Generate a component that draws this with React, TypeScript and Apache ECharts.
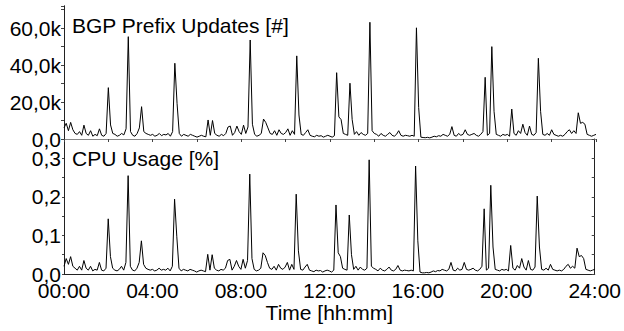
import React, { useEffect, useRef } from "react";
import * as echarts from "echarts";

// time in hours, one sample every 6 minutes (0.1 h)
const stepHours = 0.1;

// BGP prefix updates, thousands
const updatesK = [
  6, 8.5, 4.5, 9, 5, 3, 2.5, 4, 2, 7.5,
  3, 2, 4.5, 1.5, 2.5, 1.8, 5.5, 2, 1.5, 3,
  27.8, 7.6, 3, 2.5, 1.5, 2, 3, 2.2, 5.5, 55.4,
  4, 2, 1.5, 3, 6, 17.5, 4, 3, 2.5, 2,
  2.5, 1.5, 2, 3, 1.8, 2.5, 2.2, 3, 1.5, 4,
  41, 19.3, 3, 1.5, 2.5, 2, 1.5, 2.5, 2, 1.5,
  1, 1.5, 2, 1.5, 1.2, 10.3, 2, 10, 3, 2,
  1.5, 2.5, 1.8, 3, 6.5, 7, 2, 3.5, 7, 4,
  2.5, 7.5, 3, 6.5, 53.6, 8, 2.5, 1.5, 2, 3,
  10.8, 9, 6, 3, 2.5, 4.5, 2, 5, 3, 2.5,
  3.5, 5.5, 2, 4.5, 2.5, 45, 13, 2.5, 2, 3.5,
  5, 2, 1.5, 1.2, 2, 1.5, 1.8, 1, 1.5, 2,
  1.5, 1, 1.8, 35.9, 12, 10.5, 3, 2.5, 2, 30.2,
  10.5, 2.5, 4, 2, 3.5, 2.5, 2, 3, 63.2, 4.5,
  3, 2.5, 1.5, 3, 2, 1.5, 2.5, 3.5, 2, 1.5,
  2.5, 4.5, 2, 1.5, 2, 1.8, 1.5, 2, 1.5, 60.2,
  17, 1, 0.8, 0.7, 0.9, 0.6, 1, 1.5, 1.2, 1.8,
  1.5, 2.5, 2, 1.5, 2.5, 6.7, 2, 1.5, 3, 2,
  2.5, 5, 2.5, 2, 2.5, 3, 2, 1.5, 2.5, 4,
  33.4, 2, 3, 50, 15, 2.5, 2, 1.5, 2.5, 2,
  2.5, 1.5, 16.2, 3, 2, 4.5, 3, 8, 3.5, 2,
  7, 2.5, 2, 3.5, 43.7, 15, 2.5, 2, 3, 2,
  5, 2.5, 2, 1.5, 2, 1.5, 2.5, 4, 5, 3,
  4.5, 3, 14.2, 8.5, 9, 8, 2.5, 2, 1.5, 2,
  2.5,
];

// CPU usage, percent
const cpuUsage = [
  0.02, 0.04, 0.025, 0.045, 0.02, 0.015, 0.01, 0.02, 0.01, 0.035,
  0.015, 0.01, 0.02, 0.008, 0.012, 0.01, 0.03, 0.01, 0.008, 0.015,
  0.143, 0.045, 0.015, 0.01, 0.008, 0.012, 0.02, 0.01, 0.03, 0.255,
  0.02, 0.01, 0.008, 0.015, 0.03, 0.086, 0.025, 0.015, 0.012, 0.01,
  0.012, 0.008, 0.01, 0.015, 0.01, 0.012, 0.01, 0.015, 0.008, 0.02,
  0.194, 0.098, 0.015, 0.008, 0.012, 0.01, 0.008, 0.012, 0.01, 0.008,
  0.005, 0.008, 0.01, 0.008, 0.006, 0.051, 0.01, 0.05, 0.015, 0.01,
  0.008, 0.012, 0.01, 0.015, 0.035, 0.038, 0.01, 0.02, 0.035, 0.02,
  0.012, 0.038, 0.015, 0.035, 0.259, 0.04, 0.012, 0.008, 0.01, 0.015,
  0.055, 0.048, 0.03, 0.015, 0.012, 0.02, 0.01, 0.025, 0.015, 0.012,
  0.018, 0.03, 0.01, 0.025, 0.012, 0.207, 0.06, 0.012, 0.01, 0.018,
  0.025, 0.01, 0.008, 0.006, 0.01, 0.008, 0.009, 0.005, 0.008, 0.01,
  0.008, 0.005, 0.01, 0.179, 0.055, 0.045, 0.015, 0.012, 0.01, 0.153,
  0.05, 0.012, 0.02, 0.01, 0.018, 0.012, 0.01, 0.015, 0.296, 0.02,
  0.015, 0.012, 0.008, 0.015, 0.01, 0.008, 0.012, 0.018, 0.01, 0.008,
  0.012, 0.022, 0.01, 0.008, 0.01, 0.009, 0.008, 0.01, 0.008, 0.28,
  0.086, 0.005, 0.003, 0.003, 0.004, 0.003, 0.005, 0.008, 0.006, 0.009,
  0.008, 0.012, 0.01, 0.008, 0.012, 0.03, 0.01, 0.008, 0.015, 0.01,
  0.012, 0.03, 0.012, 0.01, 0.012, 0.015, 0.01, 0.008, 0.012, 0.02,
  0.169, 0.01, 0.015, 0.23, 0.07, 0.012, 0.01, 0.008, 0.012, 0.01,
  0.012, 0.008, 0.074, 0.015, 0.01, 0.022, 0.015, 0.04, 0.018, 0.01,
  0.035, 0.012, 0.01, 0.018, 0.202, 0.07, 0.012, 0.01, 0.015, 0.01,
  0.025, 0.012, 0.01, 0.008, 0.01, 0.008, 0.012, 0.02, 0.025, 0.015,
  0.02, 0.015, 0.067, 0.045, 0.048, 0.04, 0.012, 0.01, 0.008, 0.01,
  0.012,
];

const topTitle = "BGP Prefix Updates [#]";
const bottomTitle = "CPU Usage [%]";
const xName = "Time [hh:mm]";

const FONT = '"Liberation Sans", Arial, sans-serif';

export default function App() {
  const ref = useRef<HTMLDivElement>(null);
  useEffect(() => {
    document.body.style.margin = "0";
    const chart = echarts.init(ref.current!, null, { renderer: "svg" });
    const upData = updatesK.map((v, i) => [i * stepHours, v]);
    const cpuData = cpuUsage.map((v, i) => [i * stepHours, v]);
    const labelStyle = { fontFamily: FONT, fontSize: 21, color: "#000" };
    const axisLine = { show: true, lineStyle: { color: "#222", width: 1 } };
    chart.setOption({
      animation: false,
      backgroundColor: "#fff",
      grid: [
        { left: 64, top: 6, width: 532, height: 133 },
        { left: 64, top: 139, width: 532, height: 135 },
      ],
      xAxis: [
        {
          gridIndex: 0, type: "value", min: 0, max: 24, interval: 2, position: "bottom",
          axisLine: { show: true, lineStyle: { color: "#555", width: 1 } },
          axisTick: { show: false }, axisLabel: { show: false }, splitLine: { show: false },
        },
        {
          gridIndex: 0, type: "value", min: 0, max: 24, interval: 2, position: "top",
          axisLine: { show: true, lineStyle: { color: "#888", width: 1 } },
          axisTick: { show: true, inside: true, length: 3, lineStyle: { color: "#444" } },
          axisLabel: { show: false }, splitLine: { show: false },
        },
        {
          gridIndex: 1, type: "value", min: 0, max: 24, interval: 2, position: "bottom",
          axisLine,
          axisTick: { show: false },
          axisLabel: {
            ...labelStyle, margin: 6,
            formatter: (v: number) => (v % 4 === 0 ? String(v).padStart(2, "0") + ":00" : ""),
          },
          splitLine: { show: false },
          name: xName, nameLocation: "middle", nameGap: 28,
          nameTextStyle: labelStyle,
        },
      ],
      yAxis: [
        {
          gridIndex: 0, type: "value", min: 0, max: 72, interval: 10, position: "left",
          axisLine,
          axisTick: { show: true, length: 2, lineStyle: { color: "#444" } },
          axisLabel: {
            ...labelStyle, margin: 3,
            formatter: (v: number) => {
              if (Math.round(v) % 20 !== 0 || v > 70) return "";
              return v === 0 ? "0,0" : v.toFixed(1).replace(".", ",") + "k";
            },
          },
          splitLine: { show: false },
        },
        {
          gridIndex: 0, type: "value", min: 0, max: 72, interval: 10, position: "right",
          axisLine,
          axisTick: { show: true, inside: true, length: 3, lineStyle: { color: "#444" } },
          axisLabel: { show: false }, splitLine: { show: false },
        },
        {
          gridIndex: 1, type: "value", min: 0, max: 0.35, interval: 0.05, position: "left",
          axisLine,
          axisTick: { show: true, length: 2, lineStyle: { color: "#444" } },
          axisLabel: {
            ...labelStyle, margin: 3,
            formatter: (v: number) => {
              const n = Math.round(v * 100);
              if (n % 10 !== 0 || n > 30) return "";
              return (n / 100).toFixed(1).replace(".", ",");
            },
          },
          splitLine: { show: false },
        },
        {
          gridIndex: 1, type: "value", min: 0, max: 0.35, interval: 0.05, position: "right",
          axisLine,
          axisTick: { show: true, inside: true, length: 3, lineStyle: { color: "#444" } },
          axisLabel: { show: false }, splitLine: { show: false },
        },
      ],
      graphic: [
        {
          type: "text", x: 72, y: 25,
          style: { text: topTitle, font: `21px ${FONT}`, fill: "#000", verticalAlign: "middle" },
        },
        {
          type: "text", x: 72, y: 158,
          style: { text: bottomTitle, font: `21px ${FONT}`, fill: "#000", verticalAlign: "middle" },
        },
      ],
      series: [
        {
          type: "line", xAxisIndex: 0, yAxisIndex: 0, data: upData, symbol: "none",
          lineStyle: { color: "#000", width: 1 }, z: 3,
        },
        {
          type: "line", xAxisIndex: 2, yAxisIndex: 2, data: cpuData, symbol: "none",
          lineStyle: { color: "#000", width: 1 }, z: 3,
        },
      ],
    });
    return () => chart.dispose();
  }, []);
  return <div ref={ref} style={{ width: 624, height: 331 }} />;
}
